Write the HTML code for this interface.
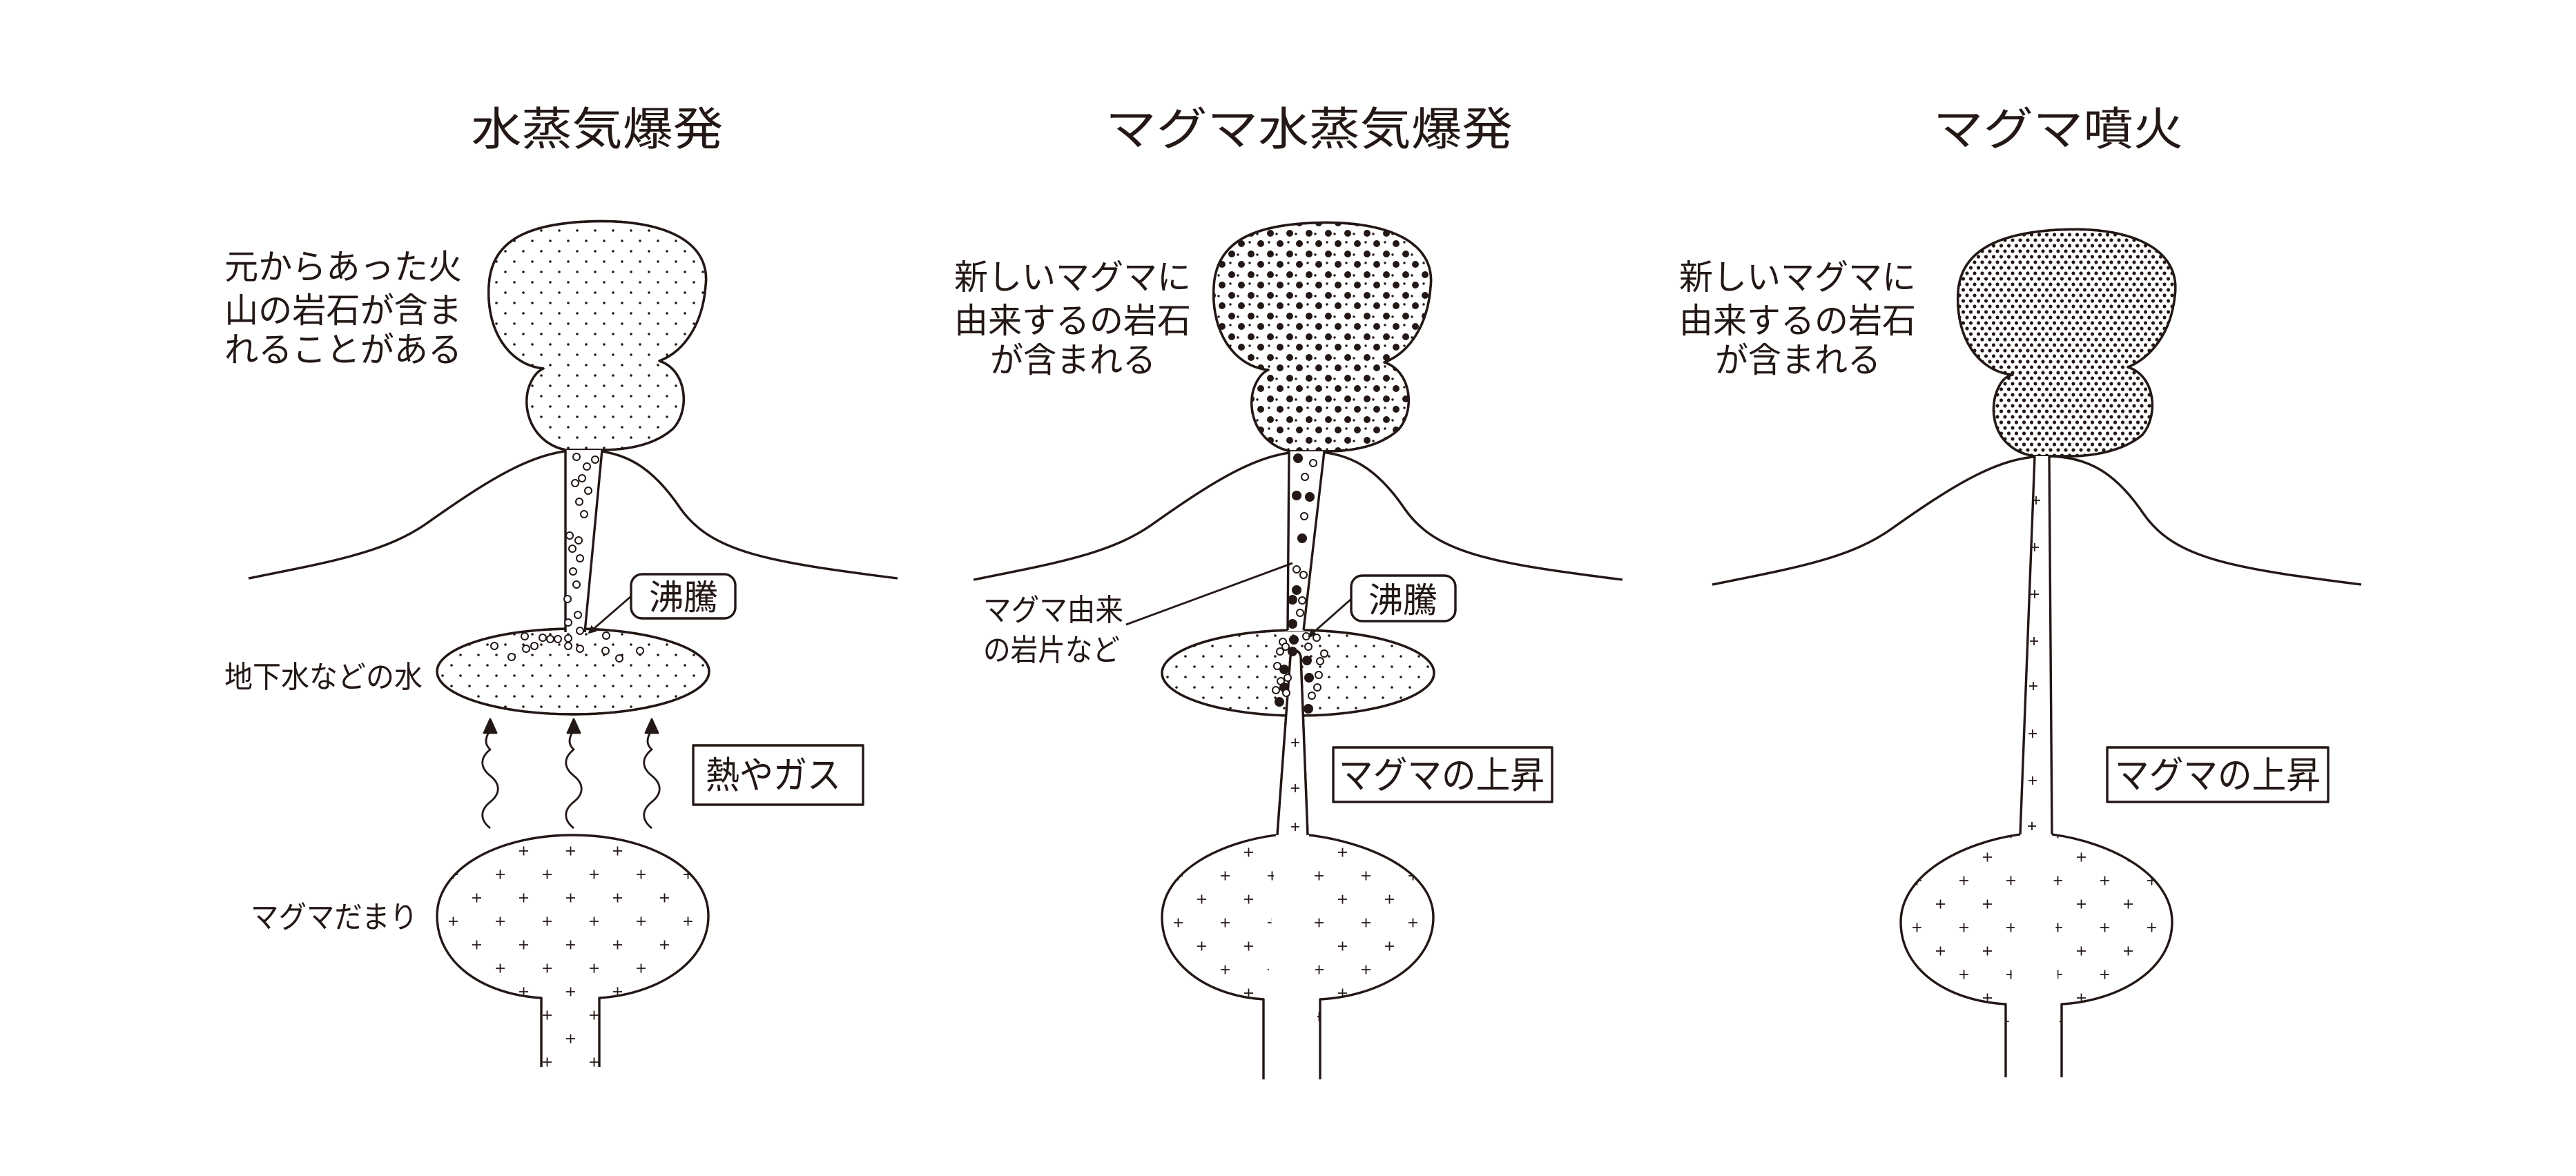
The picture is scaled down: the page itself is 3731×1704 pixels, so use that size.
<!DOCTYPE html>
<html><head><meta charset="utf-8"><style>
html,body{margin:0;padding:0;background:#fff;}
svg{display:block;}
text{font-family:"Liberation Sans","Noto Sans CJK JP",sans-serif;fill:#231815;}
</style></head><body>
<svg width="3731" height="1704" viewBox="0 0 3731 1704" xmlns="http://www.w3.org/2000/svg">
<defs>
<pattern id="pd1" width="26" height="30" patternUnits="userSpaceOnUse">
 <circle cx="4" cy="4" r="1.8" fill="#231815"/><circle cx="17" cy="19" r="1.8" fill="#231815"/>
</pattern>
<pattern id="pd2" width="28" height="30" patternUnits="userSpaceOnUse">
 <circle cx="6" cy="6" r="5" fill="#231815"/><circle cx="20" cy="21" r="5" fill="#231815"/>
 <circle cx="15" cy="7" r="1.7" fill="#231815"/><circle cx="4" cy="19" r="1.7" fill="#231815"/>
</pattern>
<pattern id="pd3" width="11" height="16" patternUnits="userSpaceOnUse">
 <circle cx="3" cy="3" r="2.6" fill="#231815"/><circle cx="8.5" cy="11" r="2.6" fill="#231815"/>
</pattern>
<pattern id="pplus" width="68" height="68" patternUnits="userSpaceOnUse" x="0" y="0">
 <path d="M4,9 H17 M10.5,2.5 V15.5 M38,43 H51 M44.5,36.5 V49.5" stroke="#231815" stroke-width="1.8"/>
</pattern>
<marker id="ah" markerWidth="12" markerHeight="12" refX="10" refY="6" orient="auto" markerUnits="userSpaceOnUse">
 <path d="M0,0 L12,6 L0,12 Z" fill="#231815"/>
</marker>
<path id="cloud" d="M820,652 C780,645 755,605 765,564 C770,548 778,538 787,534 C738,529 704,480 708,414 C711,351 760,325 850,321 C960,316 1030,349 1022,414 C1018,468 992,509 955,523 C995,536 1000,594 975,621 C945,648 900,652 870,652 Z"/>
<path id="mtn" d="M360,838 C480,814 560,800 620,757 C720,686 780,652 844,652 C905,652 945,677 985,736 C1030,800 1110,814 1300,838"/>
<path id="wave" d="M0,158 c-15,-12 -15,-26 0,-38 c15,-12 15,-26 0,-38 c-15,-12 -15,-26 0,-38 c-9,-8 -7,-18 0,-28"/>
</defs>

<g stroke="#231815" stroke-width="3.4" fill="none" stroke-linejoin="round">
<!-- ============ PANEL 1 ============ -->
<use href="#mtn"/>
<use href="#cloud" fill="#fff"/>
<use href="#cloud" fill="url(#pd1)"/>
<ellipse cx="830" cy="973" rx="197" ry="62" fill="#fff"/>
<ellipse cx="830" cy="973" rx="197" ry="62" fill="url(#pd1)"/>
<path d="M819,652 L872,652 L847,916 L819,916 Z" fill="#fff" stroke="none"/>
<path d="M819,652 L819,916 M872,652 L847,916"/>
<g stroke-width="2" fill="#fff">
 <circle cx="835" cy="662" r="5"/><circle cx="850" cy="676" r="5"/><circle cx="862" cy="666" r="5"/>
 <circle cx="843" cy="693" r="5"/><circle cx="852" cy="711" r="5"/><circle cx="833" cy="700" r="5"/>
 <circle cx="839" cy="727" r="5"/><circle cx="846" cy="745" r="5"/><circle cx="825" cy="776" r="5"/>
 <circle cx="838" cy="783" r="5"/><circle cx="829" cy="795" r="5"/><circle cx="840" cy="809" r="5"/>
 <circle cx="830" cy="828" r="5"/><circle cx="835" cy="847" r="5"/><circle cx="822" cy="868" r="5"/>
 <circle cx="837" cy="891" r="5"/><circle cx="823" cy="902" r="5"/><circle cx="840" cy="914" r="5"/>
 <circle cx="760" cy="922" r="5"/><circle cx="786" cy="924" r="5"/><circle cx="797" cy="926" r="5"/>
 <circle cx="808" cy="926" r="5"/><circle cx="823" cy="925" r="5"/><circle cx="823" cy="936" r="5"/>
 <circle cx="840" cy="940" r="5"/><circle cx="774" cy="936" r="5"/><circle cx="762" cy="940" r="5"/>
 <circle cx="716" cy="936" r="5"/><circle cx="741" cy="952" r="5"/><circle cx="878" cy="921" r="5"/>
 <circle cx="877" cy="943" r="5"/><circle cx="897" cy="954" r="5"/><circle cx="927" cy="943" r="5"/>
</g>
<rect x="914" y="832" width="151" height="64" rx="16" fill="#fff"/>
<path d="M914,864 L853,917" stroke-width="2.8" marker-end="url(#ah)"/>
<g stroke-width="2.8">
 <use href="#wave" x="710" y="1042"/><use href="#wave" x="831" y="1042"/><use href="#wave" x="944" y="1042"/>
 <path d="M701,1062 L710,1042 L719,1062 Z" fill="#231815"/>
 <path d="M822,1062 L831,1042 L840,1062 Z" fill="#231815"/>
 <path d="M935,1062 L944,1042 L953,1062 Z" fill="#231815"/>
</g>
<rect x="1004" y="1080" width="246" height="86" fill="#fff"/>
<path d="M784,1546 L784,1446 C700,1441 633,1396 633,1327 C633,1259 720,1210 830,1210 C940,1210 1026,1259 1026,1327 C1026,1396 950,1441 868,1446 L868,1546" fill="url(#pplus)"/>

<!-- ============ PANEL 2 ============ -->
<g transform="translate(1050,2)">
<use href="#mtn"/>
<use href="#cloud" fill="#fff"/>
<use href="#cloud" fill="url(#pd2)"/>
<ellipse cx="830" cy="973" rx="197" ry="62" fill="#fff"/>
<ellipse cx="830" cy="973" rx="197" ry="62" fill="url(#pd1)"/>
<path d="M817,652 L868,652 L838,912 L815,912 Z" fill="#fff" stroke="none"/>
<path d="M817,652 L815,911 M868,652 L838,911"/>
<path d="M800,1208 L819,950 C821,938 832,938 834,950 L844,1208" fill="#fff"/>
<path d="M798,1208 C720,1218 633,1259 633,1327 C633,1396 700,1441 780,1446 L780,1562 M862,1562 L862,1446 C950,1441 1026,1396 1026,1327 C1026,1259 930,1218 846,1208" fill="url(#pplus)"/>
<path d="M800,1208 L819,950 C821,938 832,938 834,950 L844,1208 Z" fill="#fff" stroke="none"/>
<path d="M800,1208 L819,950 C821,938 832,938 834,950 L844,1208"/>
<g stroke-width="1.8"><path d="M820,1074 h12 M826,1068 v12 M820,1140 h12 M826,1134 v12 M820,1196 h12 M826,1190 v12"/></g>
<g stroke-width="2">
 <circle cx="830" cy="662" r="6" fill="#231815"/><circle cx="852" cy="669" r="5" fill="#fff"/>
 <circle cx="840" cy="689" r="5" fill="#fff"/><circle cx="847" cy="718" r="6" fill="#231815"/>
 <circle cx="828" cy="716" r="6" fill="#231815"/><circle cx="839" cy="746" r="5" fill="#fff"/>
 <circle cx="836" cy="778" r="6" fill="#231815"/><circle cx="828" cy="823" r="5" fill="#fff"/>
 <circle cx="838" cy="831" r="5" fill="#fff"/><circle cx="828" cy="853" r="6" fill="#231815"/>
 <circle cx="836" cy="868" r="5" fill="#fff"/><circle cx="833" cy="886" r="5" fill="#fff"/>
 <circle cx="822" cy="867" r="6" fill="#231815"/><circle cx="822" cy="902" r="6" fill="#231815"/>
 <circle cx="824" cy="925" r="6" fill="#231815"/><circle cx="822" cy="942" r="6" fill="#231815"/>
 <circle cx="842" cy="920" r="5" fill="#fff"/><circle cx="857" cy="922" r="5" fill="#fff"/>
 <circle cx="845" cy="935" r="5" fill="#fff"/><circle cx="808" cy="928" r="5" fill="#fff"/>
 <circle cx="804" cy="942" r="5" fill="#fff"/><circle cx="812" cy="935" r="5" fill="#fff"/>
 <circle cx="868" cy="945" r="5" fill="#fff"/><circle cx="810" cy="968" r="6" fill="#231815"/>
 <circle cx="843" cy="955" r="6" fill="#231815"/><circle cx="800" cy="963" r="5" fill="#fff"/>
 <circle cx="862" cy="956" r="5" fill="#fff"/><circle cx="805" cy="985" r="5" fill="#fff"/>
 <circle cx="815" cy="980" r="5" fill="#fff"/><circle cx="810" cy="994" r="6" fill="#231815"/>
 <circle cx="846" cy="980" r="6" fill="#231815"/><circle cx="860" cy="976" r="5" fill="#fff"/>
 <circle cx="858" cy="994" r="5" fill="#fff"/><circle cx="850" cy="1006" r="5" fill="#fff"/>
 <circle cx="798" cy="998" r="5" fill="#fff"/><circle cx="813" cy="1002" r="5" fill="#fff"/>
 <circle cx="803" cy="1015" r="6" fill="#231815"/><circle cx="845" cy="1025" r="6" fill="#231815"/>
</g>
<rect x="907" y="832" width="151" height="66" rx="16" fill="#fff"/>
<path d="M907,866 L846,920" stroke-width="2.8" marker-end="url(#ah)"/>
<path d="M581,903 L822,814" stroke-width="2.8"/>
<rect x="881" y="1081" width="317" height="79" fill="#fff"/>
</g>

<!-- ============ PANEL 3 ============ -->
<g transform="translate(2120,9)">
<use href="#mtn"/>
<path d="M827,652 C780,645 760,605 770,564 C776,545 784,536 795,534 C745,529 712,480 716,414 C720,354 775,329 860,324 C960,318 1040,348 1030,420 C1024,475 995,509 962,523 C1003,536 1006,594 983,621 C955,645 910,652 880,652 Z" fill="#fff"/>
<path d="M827,652 C780,645 760,605 770,564 C776,545 784,536 795,534 C745,529 712,480 716,414 C720,354 775,329 860,324 C960,318 1040,348 1030,420 C1024,475 995,509 962,523 C1003,536 1006,594 983,621 C955,645 910,652 880,652 Z" fill="url(#pd3)"/>
<path d="M806,1200 C720,1212 633,1259 633,1327 C633,1396 700,1441 785,1446 L785,1552 M866,1552 L866,1446 C950,1441 1026,1396 1026,1327 C1026,1259 940,1212 852,1200" fill="url(#pplus)"/>
<path d="M826,652 L806,1200 L852,1200 L848,652 Z" fill="#fff" stroke="none"/>
<path d="M827,652 L806,1200 M848,652 L852,1200"/>
<g stroke-width="1.8">
 <path d="M823,716 h12 M829,710 v12 M821,784 h12 M827,778 v12 M821,852 h12 M827,846 v12 M820,920 h12 M826,914 v12 M819,985 h12 M825,979 v12 M818,1054 h12 M824,1048 v12 M818,1122 h12 M824,1116 v12 M817,1188 h12 M823,1182 v12"/>
</g>
<rect x="932" y="1074" width="320" height="79" fill="#fff"/>
</g>
</g>

<!-- ============ TEXT ============ -->
<text x="865" y="210" font-size="66" text-anchor="middle" textLength="365" lengthAdjust="spacingAndGlyphs">水蒸気爆発</text>
<text x="1896" y="210" font-size="66" text-anchor="middle" textLength="590" lengthAdjust="spacingAndGlyphs">マグマ水蒸気爆発</text>
<text x="2981" y="210" font-size="66" text-anchor="middle" textLength="362" lengthAdjust="spacingAndGlyphs">マグマ噴火</text>

<g font-size="50">
<text x="325" y="404" textLength="344" lengthAdjust="spacingAndGlyphs">元からあった火</text>
<text x="325" y="467" textLength="344" lengthAdjust="spacingAndGlyphs">山の岩石が含ま</text>
<text x="325" y="524" textLength="344" lengthAdjust="spacingAndGlyphs">れることがある</text>

<text x="1382" y="419" textLength="343" lengthAdjust="spacingAndGlyphs">新しいマグマに</text>
<text x="1382" y="482" textLength="343" lengthAdjust="spacingAndGlyphs">由来するの岩石</text>
<text x="1434" y="539" textLength="240" lengthAdjust="spacingAndGlyphs">が含まれる</text>

<text x="2432" y="419" textLength="343" lengthAdjust="spacingAndGlyphs">新しいマグマに</text>
<text x="2432" y="482" textLength="343" lengthAdjust="spacingAndGlyphs">由来するの岩石</text>
<text x="2484" y="539" textLength="240" lengthAdjust="spacingAndGlyphs">が含まれる</text>
</g>
<g font-size="44">
<text x="325" y="996" textLength="287" lengthAdjust="spacingAndGlyphs">地下水などの水</text>
<text x="363" y="1344" textLength="242" lengthAdjust="spacingAndGlyphs">マグマだまり</text>
<text x="1424" y="899" textLength="203" lengthAdjust="spacingAndGlyphs">マグマ由来</text>
<text x="1424" y="957" textLength="198" lengthAdjust="spacingAndGlyphs">の岩片など</text>
</g>
<g font-size="54">
<text x="990" y="883" text-anchor="middle" textLength="100" lengthAdjust="spacingAndGlyphs" font-size="50">沸騰</text>
<text x="2032" y="887" text-anchor="middle" textLength="100" lengthAdjust="spacingAndGlyphs" font-size="50">沸騰</text>
<text x="1022" y="1142" textLength="196" lengthAdjust="spacingAndGlyphs">熱やガス</text>
<text x="1939" y="1142" textLength="298" lengthAdjust="spacingAndGlyphs">マグマの上昇</text>
<text x="3063" y="1142" textLength="298" lengthAdjust="spacingAndGlyphs">マグマの上昇</text>
</g>
</svg>
</body></html>
